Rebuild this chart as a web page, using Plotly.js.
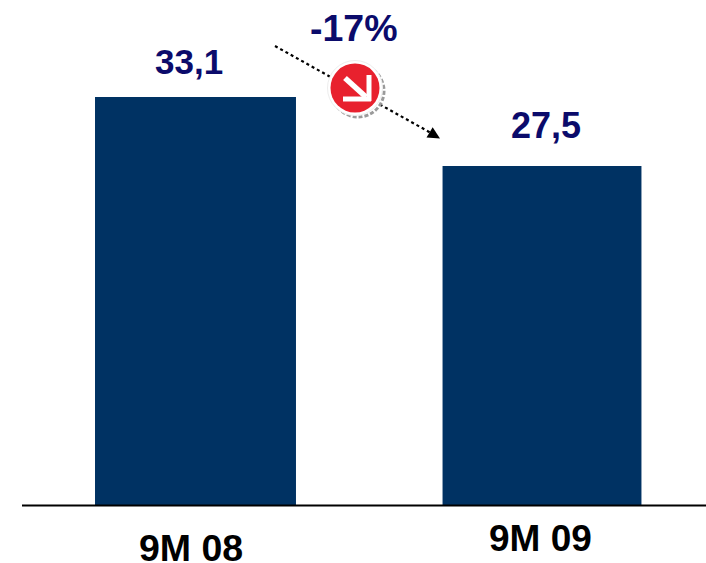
<!DOCTYPE html>
<html><head><meta charset="utf-8"><script src="https://cdn.plot.ly/plotly-3.0.0.min.js"></script>
<style>html,body{margin:0;padding:0;background:#fff}</style></head><body><div id="c" style="width:706px;height:563px"></div>
<script>
const categories=['9M 08','9M 09'];
const values=[33.1,27.5];
const valueLabels=['33,1','27,5'];
const changeLabel='-17%';
const navy='#003263', textNavy='#0B0B6B';
const W=706,H=563;
const px=x=>x/W, py=y=>1-y/H;
const unit=346.5, c0=195.5;
const line=(x0,y0,x1,y1,color,width,dash)=>({type:'line',xref:'paper',yref:'paper',x0:px(x0),y0:py(y0),x1:px(x1),y1:py(y1),line:{color,width,dash:dash||'solid'}});
const circle=(cx,cy,r,fill,lc,lw,dash)=>({type:'circle',xref:'paper',yref:'paper',x0:px(cx-r),x1:px(cx+r),y0:py(cy+r),y1:py(cy-r),fillcolor:fill,line:{color:lc,width:lw,dash:dash||'solid'}});
const label=(x,y,t,size,color)=>({xref:'paper',yref:'paper',x:px(x),y:py(y),xanchor:'center',yanchor:'middle',text:'<b>'+t+'</b>',showarrow:false,font:{family:'Liberation Sans',size,color}});
Plotly.newPlot('c',[{type:'bar',x:[0,1],y:values,width:[0.58,0.574],marker:{color:navy},hoverinfo:'skip'}],{
 width:W,height:H,margin:{l:0,r:0,t:0,b:0},showlegend:false,paper_bgcolor:'#fff',plot_bgcolor:'#fff',
 xaxis:{domain:[0,1],range:[-c0/unit,(W-c0)/unit],visible:false,fixedrange:true},
 yaxis:{domain:[py(505.5),1],range:[0,33.1*505.5/408.5],visible:false,fixedrange:true},
 shapes:[
  line(22,505.5,706,505.5,'#000',2),
  line(275,46,431,133,'#000',2.2,'dot'),
  circle(358,91,26,'#fff','#9A9A9A',3,'4px,2px'),
  circle(355,88,27.5,'#fff','#EDEDED',1),
  circle(355,88,24.5,'#E8212E','#E8212E',0),
  line(345,78,366,97,'#fff',5.5),
  line(343,99,371,99,'#fff',5),
  line(369,75,369,101,'#fff',5)
 ],
 annotations:[
  label(188.5,61,valueLabels[0],35,textNavy),
  label(546,125,valueLabels[1],36,textNavy),
  label(354,28,changeLabel,37.5,textNavy),
  label(191,548,categories[0],37.5,'#000'),
  label(540,538,categories[1],37,'#000'),
  {xref:'paper',yref:'paper',axref:'pixel',ayref:'pixel',x:px(440),y:py(138.5),ax:-11,ay:-6.5,text:'',showarrow:true,arrowhead:2,arrowsize:1.1,arrowwidth:2.2,arrowcolor:'#000'}
 ]
},{displayModeBar:false,staticPlot:true});
</script></body></html>
